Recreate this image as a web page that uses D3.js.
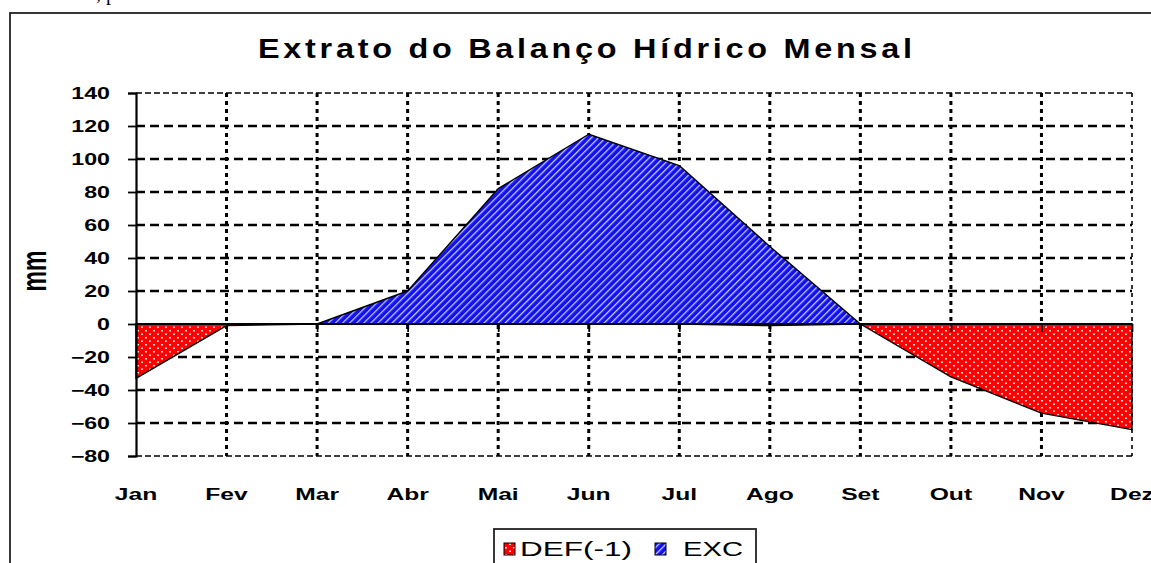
<!DOCTYPE html>
<html><head><meta charset="utf-8">
<script src="https://cdn.jsdelivr.net/npm/d3@7"></script>
<style>
html,body{margin:0;padding:0;background:#fff;}
svg{display:block;}
</style></head>
<body>
<script>
const months = ["Jan","Fev","Mar","Abr","Mai","Jun","Jul","Ago","Set","Out","Nov","Dez"];
const defValues = [-33, -1, 0, 0, 0, 0, 0, -1, 0, -32, -54, -64];
const excValues = [0, 0, 0, 20, 82, 115, 96, 47, 0, 0, 0, 0];
const yTicks = [-80, -60, -40, -20, 0, 20, 40, 60, 80, 100, 120, 140];
const seriesNames = ["DEF(-1)", "EXC"];
const titleText = "Extrato do Balanço Hídrico Mensal";
const yLabel = "mm";

const W = 1151, H = 563;
const svg = d3.select("body").append("svg").attr("width", W).attr("height", H);
const defs = svg.append("defs");

// patterns
const pr = defs.append("pattern").attr("id","dots").attr("patternUnits","userSpaceOnUse")
  .attr("width", 8).attr("height", 7);
pr.append("rect").attr("width",8).attr("height",7).attr("fill","#ff0000");
pr.append("rect").attr("x",1).attr("y",1).attr("width",2).attr("height",1.5).attr("fill","#ffe0e0");
pr.append("rect").attr("x",5).attr("y",4.5).attr("width",2).attr("height",1.5).attr("fill","#ffe0e0");

const pb = defs.append("pattern").attr("id","stripes").attr("patternUnits","userSpaceOnUse")
  .attr("width", 5).attr("height", 5).attr("patternTransform","rotate(45)");
pb.append("rect").attr("width",5).attr("height",5).attr("fill","#1010f0");
pb.append("rect").attr("x",0).attr("y",0).attr("width",1.3).attr("height",5).attr("fill","#c8c8ff");

const fills = ["url(#dots)", "url(#stripes)"];

// outer frame
svg.append("rect").attr("x",10).attr("y",13).attr("width",1200).attr("height",600)
  .attr("fill","none").attr("stroke","#222").attr("stroke-width",1.8);

// document fragment at top
svg.append("text").attr("x",96).attr("y",0).attr("font-family","Liberation Serif")
  .attr("font-size",20).attr("fill","#000").text(", p");

const x = d3.scalePoint().domain(months).range([136, 1132]);
const y = d3.scaleLinear().domain([-80, 140]).range([456, 93]);

const plot = svg.append("g");

// horizontal gridlines
plot.selectAll("line.hg").data(yTicks.filter(v => v !== 0)).join("line")
  .attr("x1", 136).attr("x2", 1132).attr("y1", d => y(d)).attr("y2", d => y(d))
  .attr("stroke","#000")
  .attr("stroke-width", d => (d === 140 || d === -80) ? 1.3 : 2.6)
  .attr("stroke-dasharray", d => (d === 140 || d === -80) ? "6,3" : "9,5");

// vertical gridlines
plot.selectAll("line.vg").data(months.slice(1)).join("line")
  .attr("x1", d => x(d)).attr("x2", d => x(d)).attr("y1", 93).attr("y2", 456)
  .attr("stroke","#000")
  .attr("stroke-width", d => d === "Dez" ? 1.6 : 3)
  .attr("stroke-dasharray", "4,4");

// areas
const area = d3.area().x((d,i) => x(months[i])).y0(y(0)).y1(d => y(d));
[defValues, excValues].forEach((vals, k) => {
  plot.append("path").datum(vals).attr("d", area)
    .attr("fill", fills[k]).attr("stroke","#000").attr("stroke-width",1.4)
    .attr("stroke-linejoin","round");
});

// y axis
const yAxis = d3.axisLeft(y).tickValues(yTicks).tickSize(8).tickFormat(d3.format("d"));
const gy = svg.append("g").attr("transform","translate(136,0)").call(yAxis);
gy.select(".domain").attr("stroke","#000").attr("stroke-width",2.2);
gy.selectAll(".tick line").attr("stroke","#000").attr("stroke-width",1.8);
gy.selectAll(".tick text").attr("x",0).attr("dy","0.36em")
  .attr("transform","translate(-26,0) scale(1.45,1)")
  .attr("font-family","Liberation Sans").attr("font-weight","bold")
  .attr("font-size",16).attr("fill","#000").attr("text-anchor","end");

// x axis at zero
const xAxis = d3.axisBottom(x).tickSize(8).tickFormat("");
const gx = svg.append("g").attr("transform",`translate(0,${y(0)})`).call(xAxis);
gx.select(".domain").attr("d", `M136,0H1132`).attr("stroke","#000").attr("stroke-width",2);
gx.selectAll(".tick line").attr("stroke","#000").attr("stroke-width",1.8);

// x labels
svg.append("g").selectAll("text").data(months).join("text")
  .attr("transform", d => `translate(${x(d)},500) scale(1.45,1)`)
  .attr("text-anchor","middle").attr("font-family","Liberation Sans")
  .attr("font-weight","bold").attr("font-size",17).attr("fill","#000").text(d => d);

// title
svg.append("text").attr("transform","translate(585,58) scale(1.2,1)").attr("text-anchor","middle")
  .attr("font-family","Liberation Sans").attr("font-weight","bold").attr("font-size",27)
  .attr("textLength",545).attr("lengthAdjust","spacing").attr("fill","#000").text(titleText);

// y label
svg.append("text").attr("transform","translate(46,271) rotate(-90) scale(1,1.5)")
  .attr("text-anchor","middle").attr("font-family","Liberation Sans").attr("font-weight","bold")
  .attr("font-size",23).attr("fill","#000").text(yLabel);

// legend
const lg = svg.append("g");
lg.append("rect").attr("x",494).attr("y",529).attr("width",262).attr("height",60)
  .attr("fill","#fff").attr("stroke","#222").attr("stroke-width",1.8);
const legendItems = [
  {name: seriesNames[0], fill: fills[0], sx: 504, tx: 520, tw: 112},
  {name: seriesNames[1], fill: fills[1], sx: 655, tx: 683, tw: 60}
];
legendItems.forEach(it => {
  lg.append("rect").attr("x", it.sx).attr("y",543).attr("width",11).attr("height",12)
    .attr("fill", it.fill).attr("stroke","#000").attr("stroke-width",1);
  lg.append("text").attr("x", it.tx).attr("y",556).attr("font-family","Liberation Sans")
    .attr("font-size",20).attr("textLength", it.tw).attr("lengthAdjust","spacingAndGlyphs")
    .attr("fill","#000").text(it.name);
});
</script>
</body></html>
